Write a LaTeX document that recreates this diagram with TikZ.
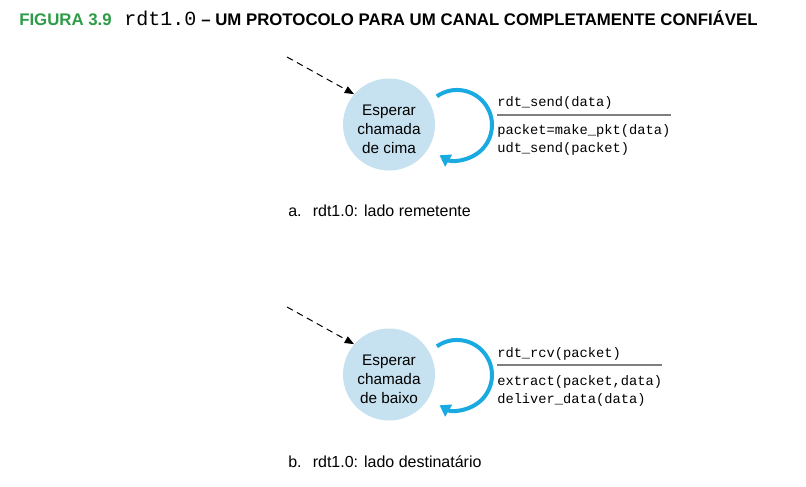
\documentclass[tikz,border=0pt]{standalone}
\usepackage{fontspec}
\setmainfont{Liberation Sans}
\setmonofont{Liberation Mono}
\usepackage{xcolor}
\usetikzlibrary{arrows.meta, positioning}

\definecolor{figgreen}{HTML}{2E9B48}
\definecolor{statefill}{HTML}{C6E2F0}
\definecolor{loopblue}{HTML}{1AAAE2}
\definecolor{rulegray}{HTML}{7F7F7F}

\newcommand{\statestrut}{\rule{0pt}{15pt}}

\begin{document}
\begin{tikzpicture}[
    x=0.75pt, y=0.75pt,
    titletext/.style={inner sep=0pt, anchor=base west, font=\fontsize{12.6pt}{15pt}\selectfont\bfseries},
    titlecode/.style={inner sep=0pt, anchor=base west, font=\fontsize{15pt}{18pt}\selectfont\ttfamily},
    waitstate/.style={circle, fill=statefill, minimum size=69pt, inner sep=0pt, align=center, font=\fontsize{11.5pt}{14.25pt}\selectfont},
    fsmtext/.style={inner sep=0pt, anchor=base west, align=left, font=\fontsize{10.3pt}{13.5pt}\selectfont\ttfamily},
    panelcaption/.style={inner sep=0pt, anchor=base west, font=\fontsize{12pt}{14pt}\selectfont},
    initarrow/.style={-{Triangle[length=7pt,width=5.5pt]}, dash pattern=on 5pt off 3.5pt, line width=0.75pt},
    loopedge/.style={-{Triangle[length=8pt,width=10pt]}, line width=3pt, draw=loopblue},
    guardrule/.style={draw=rulegray, line width=1.1pt},
]
    \useasboundingbox (0,0) rectangle (806,486);
    \fill[white] (0,0) rectangle (806,486);

    % Title
    \node[titletext, text=figgreen] (fignum) at (19,460) {FIGURA 3.9};
    \node[titlecode] (figcode) at (124,460) {rdt1.0};
    \node[titletext] (figtitle) at (201,460) {– UM PROTOCOLO PARA UM CANAL COMPLETAMENTE CONFIÁVEL};

    % a. sender side
    \node[waitstate] (sendwait) at (389,361.5) {\statestrut Esperar\\chamada\\de cima};
    \coordinate (sendinit) at (287,429);
    \draw[initarrow] (sendinit) -- (sendwait.139);
    \draw[loopedge] ([shift={(47.9,28.2)}]sendwait.center) arc[start angle=125, end angle=-120, radius=26.25pt];
    \node[fsmtext] (sendevt) at (497,379) {rdt\_send(data)};
    \node[fsmtext] (sendact) at (497,333) {packet=make\_pkt(data)\\udt\_send(packet)};
    \path (sendevt.base) ++(0,-8) coordinate (sendrule);
    \draw[guardrule] (sendrule -| sendact.west) -- (sendrule -| sendact.east);
    \node[panelcaption] (sendcap) at (288,269) {a.\hspace{0.7em}rdt1.0: lado remetente};

    % b. receiver side
    \node[waitstate] (recvwait) at (389,111.5) {\statestrut Esperar\\chamada\\de baixo};
    \coordinate (recvinit) at (287,179);
    \draw[initarrow] (recvinit) -- (recvwait.139);
    \draw[loopedge] ([shift={(47.9,28.2)}]recvwait.center) arc[start angle=125, end angle=-120, radius=26.25pt];
    \node[fsmtext] (recvevt) at (497,129) {rdt\_rcv(packet)};
    \node[fsmtext] (recvact) at (497,83) {extract(packet,data)\\deliver\_data(data)};
    \path (recvevt.base) ++(0,-8) coordinate (recvrule);
    \draw[guardrule] (recvrule -| recvact.west) -- (recvrule -| recvact.east);
    \node[panelcaption] (recvcap) at (288,19) {b.\hspace{0.7em}rdt1.0: lado destinatário};
\end{tikzpicture}
\end{document}
